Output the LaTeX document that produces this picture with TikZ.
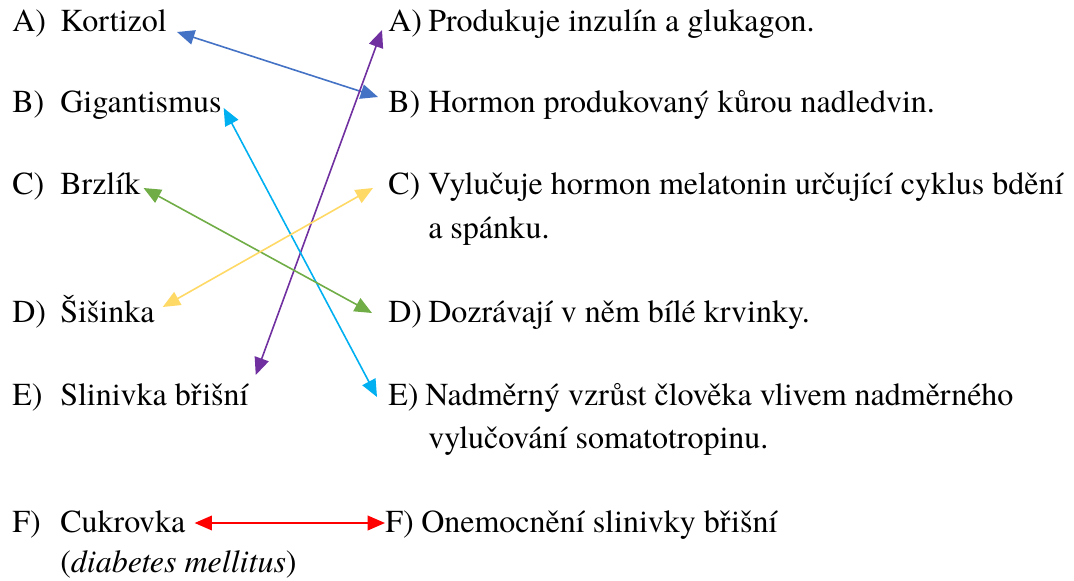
\documentclass[tikz,border=0pt]{standalone}
\usepackage{fontspec}
\setmainfont{texgyretermes}[Extension=.otf, UprightFont=*-regular, ItalicFont=*-italic, BoldFont=*-bold, BoldItalicFont=*-bolditalic]
\usetikzlibrary{arrows.meta,positioning}
\definecolor{kblue}{HTML}{4472C4}
\definecolor{kpurple}{HTML}{7030A0}
\definecolor{kcyan}{HTML}{00B0F0}
\definecolor{kgreen}{HTML}{70AD47}
\definecolor{kyellow}{HTML}{FFD966}
\definecolor{kred}{HTML}{FF0000}

\begin{document}
\begin{tikzpicture}[x=0.75pt, y=-0.75pt,
    lbl/.style={anchor=base west, inner sep=0pt, font=\fontsize{24}{32}\selectfont},
    arr/.style={{Triangle[length=13pt,width=11pt]}-{Triangle[length=13pt,width=11pt]}, line width=1.2pt}
]
    \useasboundingbox (0,0) rectangle (1074,581);

    % left column
    \node[lbl] (kA) at (12,32)  {A)};
    \node[lbl] (kB) at (12,113) {B)};
    \node[lbl] (kC) at (12,195) {C)};
    \node[lbl] (kD) at (12,322) {D)};
    \node[lbl] (kE) at (12,405) {E)};
    \node[lbl] (kF) at (12,532) {F)};
    \node[lbl] (kort) at (60,32)  {Kortizol};
    \node[lbl] (gig)  at (60,113) {Gigantismus};
    \node[lbl] (brz)  at (60,195) {Brzlík};
    \node[lbl] (sis)  at (60,322) {Šišinka};
    \node[lbl] (slin) at (60,405) {Slinivka břišní};
    \node[lbl] (cuk)  at (60,532) {Cukrovka};
    \node[lbl] (diab) at (60,572) {(\textit{diabetes mellitus})};

    % right column
    \node[lbl] (rA) at (388,32)  {A)};
    \node[lbl] (rB) at (388,113) {B)};
    \node[lbl] (rC) at (388,195) {C)};
    \node[lbl] (rD) at (388,322) {D)};
    \node[lbl] (rE) at (388,405) {E)};
    \node[lbl] (rF) at (385,532) {F)};
    \node[lbl] (inz)  at (428,32)  {Produkuje inzulín a glukagon.};
    \node[lbl] (kura) at (428,113) {Hormon produkovaný kůrou nadledvin.};
    \node[lbl] (mel)  at (428,195) {Vylučuje hormon melatonin určující cyklus bdění};
    \node[lbl] (mel2) at (428,238) {a spánku.};
    \node[lbl] (krv)  at (428,322) {Dozrávají v něm bílé krvinky.};
    \node[lbl] (vzr)  at (425,405) {Nadměrný vzrůst člověka vlivem nadměrného};
    \node[lbl] (vzr2) at (428,448) {vylučování somatotropinu.};
    \node[lbl] (one)  at (421,532) {Onemocnění slinivky břišní};

    % connectors
    \draw[arr, kblue]   ([shift={(10,0)}]kort.base east)  -- ([shift={(-10,-16)}]rB.base west);
    \draw[arr, kpurple] ([shift={(7,-30)}]slin.base east) -- ([shift={(-6,-2)}]rA.base west);
    \draw[arr, kcyan]   ([shift={(2,-5)}]gig.base east)   -- ([shift={(-11,-8)}]rE.base west);
    \draw[arr, kgreen]  ([shift={(3,-7)}]brz.base east)   -- ([shift={(-16,-9)}]rD.base west);
    \draw[arr, kyellow] ([shift={(8,-15)}]sis.base east)  -- ([shift={(-15,-7)}]rC.base west);
    \draw[arr, kred]    ([shift={(9,-9)}]cuk.base east)   -- ([shift={(0,-9)}]rF.base west);
\end{tikzpicture}
\end{document}
